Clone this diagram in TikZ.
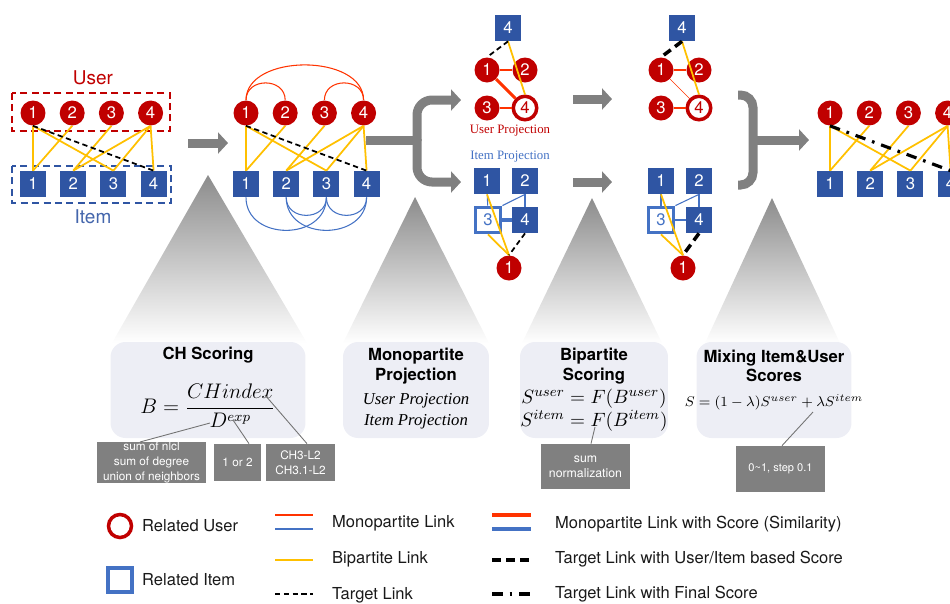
\documentclass[tikz,border=0pt]{standalone}
\usepackage{amsmath}
\usepackage{fontspec}
\setmainfont{TeX Gyre Heros}
\newfontfamily\timesfont{Liberation Serif}
\usetikzlibrary{arrows.meta,positioning,shapes}

\definecolor{ured}{HTML}{C00000}
\definecolor{iblue}{HTML}{2F55A3}
\definecolor{lblue}{HTML}{4472C4}
\definecolor{lred}{HTML}{FF3300}
\definecolor{byel}{HTML}{FFC000}
\definecolor{agray}{HTML}{808080}
\definecolor{pfill}{HTML}{EDEEF5}

\begin{document}
\begin{tikzpicture}[
    x=0.02cm, y=-0.02cm,
    node distance = 0.27cm,
    num/.style = {font=\fontsize{9.5}{10}\selectfont},
    user/.style = {circle, fill=ured, text=white, minimum size=0.5cm, inner sep=0pt, num},
    item/.style = {rectangle, fill=iblue, text=white, minimum size=0.52cm, inner sep=0pt, num},
    reluser/.style = {circle, draw=ured, line width=2pt, fill=white, text=ured, minimum size=0.47cm, inner sep=0pt, num},
    relitem/.style = {rectangle, draw=lblue, line width=2.2pt, fill=white, text=lblue, minimum size=0.5cm, inner sep=0pt, num},
    bip/.style = {draw=byel, line width=1pt},
    tgt/.style = {draw=black, line width=1pt, dash pattern=on 3pt off 2pt},
    tgtscore/.style = {draw=black, line width=2pt, dash pattern=on 5pt off 3pt},
    tgtfinal/.style = {draw=black, line width=1.8pt, dash pattern=on 6pt off 4pt on 1.5pt off 4pt},
    monored/.style = {draw=lred, line width=0.6pt},
    monoblue/.style = {draw=lblue, line width=0.6pt},
    scorered/.style = {draw=lred, line width=1.8pt},
    scoreblue/.style = {draw=lblue, line width=1.8pt},
    bigline/.style = {draw=agray, line width=0.18cm},
    bigarrow/.style = {bigline, ->, >={Triangle[length=0.2cm,width=0.42cm]}},
    spot/.style = {top color=black!45, bottom color=white},
    panel/.style = {rectangle, rounded corners=0.3cm, fill=pfill, minimum height=1.92cm},
    title/.style = {font=\fontsize{9.5}{11}\selectfont\bfseries, align=center},
    note/.style = {rectangle, fill=agray, text=white, align=center, inner sep=0pt},
    pointer/.style = {draw=black!55, line width=0.5pt},
    legend/.style = {anchor=west, font=\fontsize{9.4}{11}\selectfont, text=black!90}
]
\useasboundingbox (0,0) rectangle (950,603);
\clip (0,0) rectangle (950,603);

% Spotlights
\shade[spot] (208,175) -- (307,343) -- (112,343) -- cycle;
\shade[spot] (415,197) -- (489,343) -- (343,343) -- cycle;
\shade[spot] (592,198) -- (662,343) -- (522,343) -- cycle;
\shade[spot] (772,198) -- (840,343) -- (705,343) -- cycle;

% Summary boxes
\node[panel, minimum width=3.9cm] (p-ch) at (208,390) {};
\node[panel, minimum width=2.92cm] (p-mono) at (416,390) {};
\node[panel, minimum width=2.96cm] (p-bip) at (594,390) {};
\node[panel, minimum width=3.1cm] (p-mix) at (774,390) {};

\node[title] (t-ch) at (208,355) {CH Scoring};
\node[font=\fontsize{11.5}{13}\selectfont] (f-ch) at (208,406) {$\displaystyle B=\frac{CHindex}{D^{exp}}$};
\node[title] (t-mono) at (416,366) {Monopartite\\Projection};
\node[font=\timesfont\itshape\fontsize{9.5}{12}\selectfont, align=center] (f-mono) at (416,411) {User Projection\\Item Projection};
\node[title] (t-bip) at (594,366) {Bipartite\\Scoring};
\node[font=\fontsize{11}{11.4}\selectfont, align=center] (f-bip) at (594,410) {$S^{user}=F(B^{user})$\\$S^{item}=F(B^{item})$};
\node[title] (t-mix) at (774,366) {Mixing Item\&User\\Scores};
\node[font=\fontsize{8.3}{10}\selectfont] (f-mix) at (774,402) {$S=(1-\lambda)S^{user}+\lambda S^{item}$};

% Notes
\node[note, minimum width=2.18cm, minimum height=0.74cm, font=\fontsize{6.7}{8.3}\selectfont] (nlcl) at (151.5,462.5) {sum of nlcl\\sum of degree\\union of neighbors};
\node[note, minimum width=0.94cm, minimum height=0.74cm, font=\fontsize{6.7}{8.3}\selectfont] (orr) at (237.5,462.5) {1 or 2};
\node[note, minimum width=1.38cm, minimum height=0.74cm, font=\fontsize{6.7}{8.3}\selectfont] (chidx) at (300.5,462.5) {CH3-L2\\CH3.1-L2};
\node[note, minimum width=1.78cm, minimum height=0.9cm, font=\fontsize{7}{8.6}\selectfont] (sumnorm) at (585.5,466.5) {sum\\normalization};
\node[note, minimum width=1.78cm, minimum height=0.92cm, font=\fontsize{6.3}{8}\selectfont] (lam) at (780.5,469) {0\textasciitilde1, step 0.1};

\coordinate (dpt) at (210,423);
\coordinate (exppt) at (233,420);
\coordinate (chpt) at (265,395);
\coordinate (fpt) at (595,427);
\coordinate (lampt) at (813,412);
\draw[pointer] (dpt) -- ([xshift=-0.23cm]nlcl.north);
\draw[pointer] (exppt) -- ([xshift=0.23cm]orr.north);
\draw[pointer] (chpt) -- ([xshift=0.13cm]chidx.north);
\draw[pointer] (fpt) -- ([xshift=0.11cm]sumnorm.north);
\draw[pointer] (lampt) -- ([xshift=0.03cm]lam.north);

% Input bipartite graph
\node[text=ured, font=\fontsize{10.8}{12}\selectfont] (a-ulab) at (93,78) {User};
\node[text=iblue!90!white, font=\fontsize{10.8}{12}\selectfont] (a-ilab) at (93,217) {Item};
\draw[draw=ured, line width=1.2pt, dash pattern=on 4pt off 2.5pt] (12,93) rectangle (170,131);
\draw[draw=iblue, line width=1.2pt, dash pattern=on 4pt off 2.5pt] (12,166) rectangle (171,203);
\node[user] (a-u1) at (33,113) {1};
\node[user, right=of a-u1] (a-u2) {2};
\node[user, right=of a-u2] (a-u3) {3};
\node[user, right=of a-u3] (a-u4) {4};
\node[item] (a-i1) at (33,184) {1};
\node[item, right=of a-i1] (a-i2) {2};
\node[item, right=of a-i2] (a-i3) {3};
\node[item, right=of a-i3] (a-i4) {4};

% CH scored graph
\node[user] (b-u1) at (246,113) {1};
\node[user, right=of b-u1] (b-u2) {2};
\node[user, right=of b-u2] (b-u3) {3};
\node[user, right=of b-u3] (b-u4) {4};
\node[item] (b-i1) at (246,184) {1};
\node[item, right=of b-i1] (b-i2) {2};
\node[item, right=of b-i2] (b-i3) {3};
\node[item, right=of b-i3] (b-i4) {4};

\draw[monored] (b-u1.north) .. controls +(0,-23) and +(0,-23) .. (b-u2.north);
\draw[monored] (b-u3.north) .. controls +(0,-23) and +(0,-23) .. (b-u4.north);
\draw[monored] (b-u1.north) .. controls +(0,-47) and +(0,-47) .. (b-u4.north);
\draw[monoblue] (b-i1.south) .. controls +(0,44) and +(0,44) .. (b-i3.south);
\draw[monoblue] (b-i2.south) .. controls +(0,44) and +(0,44) .. (b-i4.south);
\draw[monoblue] (b-i2.south) .. controls +(0,24) and +(0,24) .. (b-i3.south);
\draw[monoblue] (b-i3.south) .. controls +(0,24) and +(0,24) .. (b-i4.south);

% Final graph
\node[user] (e-u1) at (830,113) {1};
\node[user, right=of e-u1] (e-u2) {2};
\node[user, right=of e-u2] (e-u3) {3};
\node[user, right=of e-u3] (e-u4) {4};
\node[item] (e-i1) at (830,184) {1};
\node[item, right=of e-i1] (e-i2) {2};
\node[item, right=of e-i2] (e-i3) {3};
\node[item, right=of e-i3] (e-i4) {4};

\foreach \p in {a,b,e}
  \foreach \u/\i in {1/1,2/1,1/3,3/2,4/2,4/3,4/4}
    \draw[bip] (\p-u\u.south) -- (\p-i\i.north);
\draw[tgt] (a-u1.south) -- (a-i4.north);
\draw[tgt] (b-u1.south) -- (b-i4.north);
\draw[tgtfinal] (e-u1.south) -- (e-i4.north);

% Projections
\node[item] (c-ti4) at (508,28) {4};
\node[user] (c-u1) at (487,70) {1};
\node[user] (c-u2) at (525,70) {2};
\node[user] (c-u3) at (487,108) {3};
\node[reluser] (c-u4) at (525,108) {4};
\node[text=ured, font=\timesfont\fontsize{7.3}{8}\selectfont] (c-ulab) at (510,131) {User Projection};
\node[text=lblue, font=\timesfont\fontsize{7.3}{8}\selectfont] (c-ilab) at (510,157) {Item Projection};
\node[item] (c-i1) at (487,181) {1};
\node[item] (c-i2) at (525,181) {2};
\node[relitem] (c-i3) at (488,220) {3};
\node[item] (c-i4) at (525,220) {4};
\node[user] (c-bu1) at (509,268) {1};

\draw[monored] (c-u1) -- (c-u2);
\draw[scorered] (c-u1) -- (c-u4);
\draw[monored] (c-u3) -- (c-u4);
\draw[bip] (c-ti4.south) -- (c-u4.north);
\draw[tgt] (c-ti4.south) -- (c-u1.north);
\draw[monoblue] (c-i1) -- (c-i3);
\draw[monoblue] (c-i2.south) -- (c-i3.north east);
\draw[monoblue] (c-i2) -- (c-i4);
\draw[scoreblue] (c-i3) -- (c-i4);
\draw[bip] (c-i1.south) -- (c-bu1.north);
\draw[bip] (c-i3.south) -- (c-bu1.north);
\draw[tgt] (c-i4.south) -- (c-bu1.north);

% Bipartite scores
\node[item] (d-ti4) at (682,28) {4};
\node[user] (d-u1) at (661,70) {1};
\node[user] (d-u2) at (699,70) {2};
\node[user] (d-u3) at (661,108) {3};
\node[reluser] (d-u4) at (699,108) {4};
\node[item] (d-i1) at (661,181) {1};
\node[item] (d-i2) at (699,181) {2};
\node[relitem] (d-i3) at (661,220) {3};
\node[item] (d-i4) at (699,220) {4};
\node[user] (d-bu1) at (683,268) {1};

\draw[monored] (d-u1) -- (d-u2);
\draw[monored, line width=0.4pt] (d-u1) -- (d-u4);
\draw[monored, line width=1pt] (d-u3) -- (d-u4);
\draw[bip] (d-ti4.south) -- (d-u4.north);
\draw[tgtscore] (d-ti4.south) -- (d-u1.north);
\draw[monoblue] (d-i1) -- (d-i3);
\draw[monoblue] (d-i2.south) -- (d-i3.north east);
\draw[monoblue] (d-i2) -- (d-i4);
\draw[monoblue] (d-i3) -- (d-i4);
\draw[bip] (d-i1.south) -- (d-bu1.north);
\draw[bip] (d-i3.south) -- (d-bu1.north);
\draw[tgtscore] (d-i4.south) -- (d-bu1.north);

% Flow arrows
\coordinate (s1) at (188,143);
\coordinate (s2) at (228,143);
\draw[bigarrow] (s1) -- (s2);
\draw[bigline] (366,140) -- (417,140);
\draw[bigarrow, rounded corners=0.3cm] (417,141) |- (461,100);
\draw[bigarrow, rounded corners=0.3cm] (417,139) |- (461,182);
\draw[bigarrow] (573,99) -- (612,99);
\draw[bigarrow] (573,182) -- (612,182);
\draw[bigline, rounded corners=0.25cm] (738,95) -| (753,140) |- (738,185);
\draw[bigarrow] (753,140) -- (809,140);

% Legend
\node[reluser, minimum size=0.46cm] (lg-u) at (120,526) {};
\node[legend] (lg-utxt) at (136,526) {Related User};
\node[relitem, minimum size=0.48cm] (lg-i) at (120,580) {};
\node[legend] (lg-itxt) at (136,580) {Related Item};
\draw[monored] (275,515) -- (313,515);
\draw[monoblue] (275,529) -- (313,529);
\node[legend] (lg-mono) at (326,523) {Monopartite Link};
\draw[bip] (275,560) -- (313,560);
\node[legend] (lg-bip) at (326,559) {Bipartite Link};
\draw[tgt] (275,594) -- (313,594);
\node[legend] (lg-tgt) at (326,595) {Target Link};
\draw[scorered] (492,515) -- (531,515);
\draw[scoreblue] (492,529) -- (531,529);
\node[legend] (lg-score) at (549,524) {Monopartite Link with Score (Similarity)};
\draw[tgtscore] (492,560) -- (531,560);
\node[legend] (lg-tscore) at (549,559) {Target Link with User/Item based Score};
\draw[tgtfinal] (492,594) -- (531,594);
\node[legend] (lg-final) at (549,594) {Target Link with Final Score};

\end{tikzpicture}
\end{document}
